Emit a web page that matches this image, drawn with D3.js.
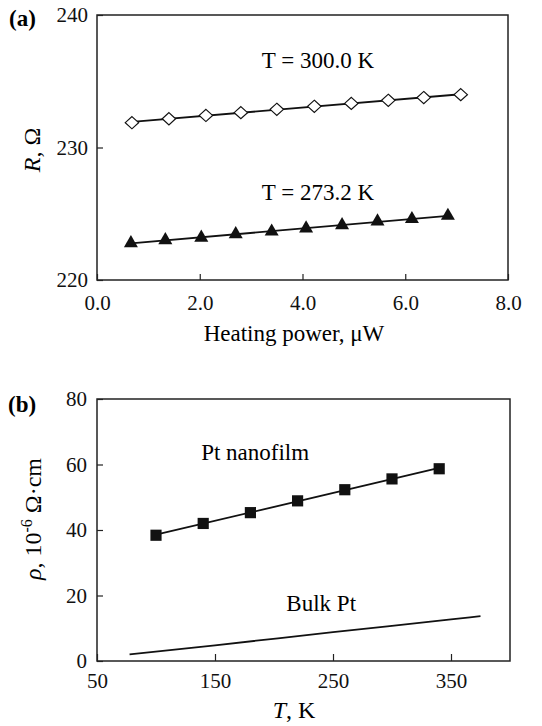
<!DOCTYPE html>
<html>
<head>
<meta charset="utf-8">
<script src="https://cdn.jsdelivr.net/npm/d3@7"></script>
<style>
  body { margin: 0; background: white; }
  svg { display: block; }
  svg text { font-family: 'Liberation Serif', 'Times New Roman', Times, 'DejaVu Serif', serif; }
</style>
</head>
<body>
<div id="viz"></div>
<script>
// panel (a): resistance vs heating power
const powerHot = [0.68, 1.40, 2.12, 2.80, 3.50, 4.23, 4.95, 5.67, 6.36, 7.08];
const resHot = [231.87, 232.17, 232.42, 232.63, 232.88, 233.11, 233.33, 233.56, 233.77, 233.99];
const powerCold = [0.66, 1.33, 2.03, 2.70, 3.40, 4.07, 4.77, 5.46, 6.13, 6.83];
const resCold = [222.78, 223.01, 223.20, 223.46, 223.66, 223.89, 224.14, 224.42, 224.60, 224.85];
const powerTicks = [0, 2, 4, 6, 8];
const resTicks = [220, 230, 240];

// panel (b): resistivity vs temperature
const tempFilm = [100, 140, 180, 220, 260, 300, 340];
const rhoFilm = [38.4, 42.0, 45.3, 48.9, 52.3, 55.6, 58.7];
const tempBulk = [77.6, 150, 250, 350, 375];
const rhoBulk = [2.0, 4.8, 8.8, 12.7, 13.7];
const tempTicks = [50, 150, 250, 350];
const rhoTicks = [0, 20, 40, 60, 80];

const width = 542, height = 726;

const svg = d3.select('#viz')
    .append('svg')
    .attr('width', width)
    .attr('height', height);

// least squares line through the points, drawn from first to last x
function fitLine(xs, ys) {
    const mx = d3.mean(xs), my = d3.mean(ys);
    const b = d3.sum(xs, (x, i) => (x - mx) * (ys[i] - my)) / d3.sum(xs, x => (x - mx) * (x - mx));
    const a = my - b * mx;
    const x0 = d3.min(xs), x1 = d3.max(xs);
    return [[x0, a + b * x0], [x1, a + b * x1]];
}

function frame(g, x, y) {
    g.append('rect')
        .attr('x', x.range()[0])
        .attr('y', y.range()[1])
        .attr('width', x.range()[1] - x.range()[0])
        .attr('height', y.range()[0] - y.range()[1])
        .attr('fill', 'none')
        .attr('stroke', '#222')
        .attr('stroke-width', 1.5);
}

function styleAxis(sel) {
    sel.select('.domain').remove();
    sel.selectAll('line').attr('stroke', '#222').attr('stroke-width', 1.2);
    sel.attr('font-family', null);
    sel.selectAll('text')
        .attr('fill', '#111')
        .attr('font-size', 21);
}

// ---------- (a) ----------
const xA = d3.scaleLinear().domain([0, 8]).range([97, 508]);
const yA = d3.scaleLinear().domain([220, 240]).range([280, 15]);

const gA = svg.append('g');
frame(gA, xA, yA);

gA.append('g')
    .attr('transform', `translate(0,${yA.range()[0]})`)
    .call(d3.axisBottom(xA).tickValues(powerTicks).tickFormat(d3.format('.1f'))
        .tickSizeInner(-6).tickSizeOuter(0).tickPadding(15))
    .call(styleAxis);

gA.append('g')
    .attr('transform', `translate(${xA.range()[0]},0)`)
    .call(d3.axisLeft(yA).tickValues(resTicks)
        .tickSizeInner(-6).tickSizeOuter(0).tickPadding(9))
    .call(styleAxis);

const lineA = d3.line().x(d => xA(d[0])).y(d => yA(d[1]));

gA.append('path')
    .datum(fitLine(powerHot, resHot))
    .attr('d', lineA)
    .attr('stroke', '#111')
    .attr('stroke-width', 1.8)
    .attr('fill', 'none');

gA.append('path')
    .datum(fitLine(powerCold, resCold))
    .attr('d', lineA)
    .attr('stroke', '#111')
    .attr('stroke-width', 1.8)
    .attr('fill', 'none');

gA.selectAll('.hot')
    .data(powerHot)
    .enter()
    .append('path')
    .attr('class', 'hot')
    .attr('d', d3.symbol().type(d3.symbolDiamond2).size(95))
    .attr('transform', (d, i) => `translate(${xA(d)},${yA(resHot[i])}) scale(1.1,1)`)
    .attr('fill', 'white')
    .attr('stroke', '#111')
    .attr('stroke-width', 1.1);

gA.selectAll('.cold')
    .data(powerCold)
    .enter()
    .append('path')
    .attr('class', 'cold')
    .attr('d', d3.symbol().type(d3.symbolTriangle).size(85))
    .attr('transform', (d, i) => `translate(${xA(d)},${yA(resCold[i])})`)
    .attr('fill', '#111');

gA.append('text')
    .attr('x', xA(4.3))
    .attr('y', yA(236.0))
    .attr('text-anchor', 'middle')
    .attr('font-size', 23)
    .text('T = 300.0 K');

gA.append('text')
    .attr('x', xA(4.3))
    .attr('y', yA(226.05))
    .attr('text-anchor', 'middle')
    .attr('font-size', 23)
    .text('T = 273.2 K');

gA.append('text')
    .attr('x', 294)
    .attr('y', 341)
    .attr('text-anchor', 'middle')
    .attr('font-size', 23)
    .text('Heating power, μW');

gA.append('text')
    .attr('transform', 'translate(40,150) rotate(-90)')
    .attr('text-anchor', 'middle')
    .attr('font-size', 24)
    .html('<tspan font-style="italic">R</tspan>, Ω');

gA.append('text')
    .attr('x', 9)
    .attr('y', 26)
    .attr('font-size', 23)
    .attr('font-weight', 'bold')
    .text('(a)');

// ---------- (b) ----------
const xB = d3.scaleLinear().domain([50, 400]).range([97, 510]);
const yB = d3.scaleLinear().domain([0, 80]).range([661, 399]);

const gB = svg.append('g');
frame(gB, xB, yB);

gB.append('g')
    .attr('transform', `translate(0,${yB.range()[0]})`)
    .call(d3.axisBottom(xB).tickValues(tempTicks)
        .tickSizeInner(-7).tickSizeOuter(0).tickPadding(12))
    .call(styleAxis);

gB.append('g')
    .attr('transform', `translate(${xB.range()[0]},0)`)
    .call(d3.axisLeft(yB).tickValues(rhoTicks)
        .tickSizeInner(-6).tickSizeOuter(0).tickPadding(10))
    .call(styleAxis);

const lineB = d3.line().x(d => xB(d[0])).y(d => yB(d[1]));

gB.append('path')
    .datum(fitLine(tempFilm, rhoFilm))
    .attr('d', lineB)
    .attr('stroke', '#111')
    .attr('stroke-width', 1.8)
    .attr('fill', 'none');

gB.append('path')
    .datum(tempBulk.map((t, i) => [t, rhoBulk[i]]))
    .attr('d', lineB.curve(d3.curveMonotoneX))
    .attr('stroke', '#111')
    .attr('stroke-width', 1.8)
    .attr('fill', 'none');

gB.selectAll('.film')
    .data(tempFilm)
    .enter()
    .append('path')
    .attr('class', 'film')
    .attr('d', d3.symbol().type(d3.symbolSquare).size(125))
    .attr('transform', (d, i) => `translate(${xB(d)},${yB(rhoFilm[i])})`)
    .attr('fill', '#111');

gB.append('text')
    .attr('x', xB(184))
    .attr('y', yB(61.4))
    .attr('text-anchor', 'middle')
    .attr('font-size', 23)
    .text('Pt nanofilm');

gB.append('text')
    .attr('x', xB(240))
    .attr('y', yB(15.3))
    .attr('text-anchor', 'middle')
    .attr('font-size', 23)
    .text('Bulk Pt');

gB.append('text')
    .attr('x', 294)
    .attr('y', 718)
    .attr('text-anchor', 'middle')
    .attr('font-size', 24)
    .html('<tspan font-style="italic">T</tspan>, K');

gB.append('text')
    .attr('transform', 'translate(41,519) rotate(-90)')
    .attr('text-anchor', 'middle')
    .attr('font-size', 24)
    .html('<tspan font-style="italic">ρ</tspan>, 10<tspan dy="-9" font-size="16">-6</tspan><tspan dy="9"> Ω·cm</tspan>');

gB.append('text')
    .attr('x', 8)
    .attr('y', 412)
    .attr('font-size', 23)
    .attr('font-weight', 'bold')
    .text('(b)');
</script>
</body>
</html>
